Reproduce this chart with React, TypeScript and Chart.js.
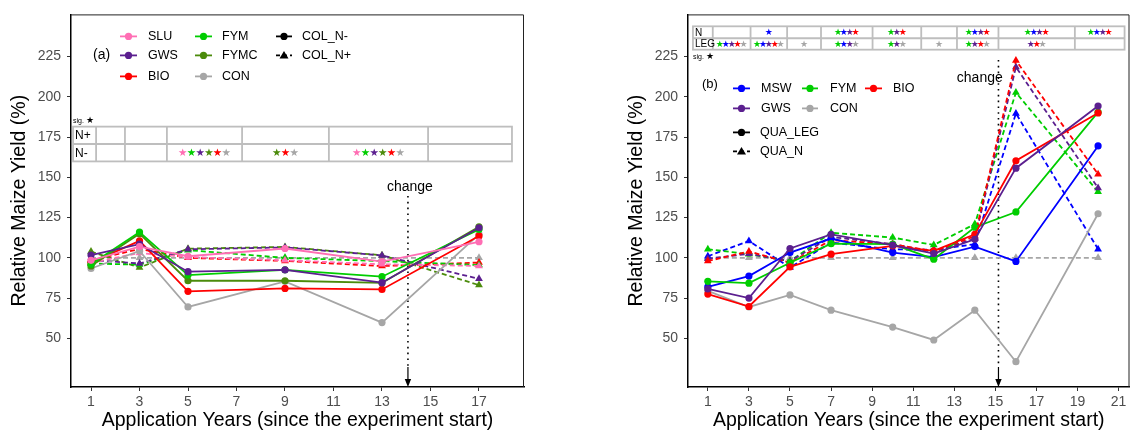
import React, { useEffect, useRef } from "react";
import { Chart, registerables } from "chart.js";
Chart.register(...registerables);

const FONT = "'Liberation Sans', Arial, Helvetica, sans-serif";
const STAR_FONT = "'DejaVu Sans', sans-serif";

const COLORS: Record<string, string> = {
  SLU: "#FF6EB4",
  GWS: "#5B1F8F",
  BIO: "#FF0000",
  FYM: "#00CD00",
  FYMC: "#4B8B0B",
  CON: "#A6A6A6",
  MSW: "#0000FF",
};

// ---------- Panel (a) ----------
const yearsA = [1, 3, 5, 9, 13, 17];
const xTicksA = [1, 3, 5, 7, 9, 11, 13, 15, 17];
const SLU_Nminus = [98.5, 107, 101, 105.8, 97.7, 110];
const GWS_Nminus = [101.7, 108.5, 91.4, 92.5, 84.6, 118.7];
const BIO_Nminus = [97, 110.5, 79.2, 81, 80.4, 113.6];
const FYM_Nminus = [96, 116, 89.3, 92.6, 88.3, 117.7];
const FYMC_Nminus = [95, 115, 85.8, 85.8, 84.5, 119.3];
const CON_Nminus = [93.4, 104.3, 69.5, 85.4, 59.8, 114.6];
const SLU_Nplus = [97, 103, 100.5, 98.5, 96, 95];
const GWS_Nplus = [98.7, 96.5, 105.3, 106.5, 101.5, 87];
const BIO_Nplus = [98.5, 105.5, 100, 98.1, 94.9, 97.1];
const FYM_Nplus = [96.5, 95.8, 104.8, 100, 98, 95.5];
const FYMC_Nplus = [103.9, 94, 105.7, 106.8, 101.6, 83.1];
const CON_Nplus = [100, 100, 100, 100, 100, 100];

// ---------- Panel (b) ----------
const yearsB = [1, 3, 5, 7, 10, 12, 14, 16, 20];
const xTicksB = [1, 3, 5, 7, 9, 11, 13, 15, 17, 19, 21];
const MSW_LEG = [82, 88.7, 103.3, 112, 103.3, 100.5, 107, 97.8, 169.5];
const MSW_N = [101, 110.5, 94, 109.5, 105.3, 105, 108.5, 189.7, 105.4];
const FYM_LEG = [85.4, 84.3, 97, 108.8, 108.5, 99.2, 119, 128.5, 190.5];
const FYM_N = [105.4, 102.3, 98, 115.6, 112.6, 108, 121, 202.7, 141];
const BIO_LEG = [77.5, 69.8, 94.4, 102.3, 107.4, 104.3, 114.6, 160.3, 190];
const BIO_N = [98, 104, 97, 111, 108.5, 104, 113.5, 222.6, 152];
const GWS_LEG = [80.7, 75, 105.8, 114.6, 107.9, 102.7, 111.5, 155.7, 194.3];
const GWS_N = [99.5, 102.5, 98, 113, 108.5, 103.8, 112, 218.5, 143.4];
const CON_LEG = [79.5, 69.5, 77, 67.5, 57, 49, 67.5, 35.5, 127.4];
const CON_N = [100, 100, 100, 100, 100, 100, 100, 100, 100];

const yTicks = [50, 75, 100, 125, 150, 175, 200, 225];

// Significance tables
const tableA_rows = ["N+", "N-"];
const tableA_stars: string[][][] = [
  [[], [], [], [], [], []],
  [[], [], ["SLU", "FYM", "GWS", "FYMC", "BIO", "CON"], ["FYMC", "BIO", "CON"], ["SLU", "FYM", "GWS", "FYMC", "BIO", "CON"], []],
];
const tableB_rows = ["N", "LEG"];
const tableB_stars: string[][][] = [
  [[], ["MSW"], [], ["FYM", "MSW", "GWS", "BIO"], ["FYM", "GWS", "BIO"], [], ["FYM", "MSW", "GWS", "BIO"], ["FYM", "MSW", "GWS", "BIO"], ["FYM", "MSW", "GWS", "BIO"]],
  [["FYM", "MSW", "GWS", "BIO", "CON"], ["FYM", "MSW", "GWS", "BIO", "CON"], ["CON"], ["FYM", "MSW", "GWS", "CON"], ["FYM", "GWS", "CON"], ["CON"], ["FYM", "GWS", "BIO", "CON"], ["GWS", "BIO", "CON"], []],
];

function pts(xs: number[], ys: number[]) {
  return xs.map((x, i) => ({ x, y: ys[i] }));
}

function ds(label: string, xs: number[], ys: number[], color: string, dashed: boolean) {
  return {
    label,
    data: pts(xs, ys),
    borderColor: color,
    backgroundColor: color,
    borderWidth: 1.8,
    borderDash: dashed ? [5, 3] : [],
    pointStyle: dashed ? "triangle" : "circle",
    pointRadius: dashed ? 4.5 : 3.6,
    pointBorderWidth: 0,
    pointBackgroundColor: color,
    tension: 0,
    fill: false,
  };
}

const datasetsA = [
  ds("SLU COL_N-", yearsA, SLU_Nminus, COLORS.SLU, false),
  ds("GWS COL_N-", yearsA, GWS_Nminus, COLORS.GWS, false),
  ds("FYM COL_N-", yearsA, FYM_Nminus, COLORS.FYM, false),
  ds("FYMC COL_N-", yearsA, FYMC_Nminus, COLORS.FYMC, false),
  ds("BIO COL_N-", yearsA, BIO_Nminus, COLORS.BIO, false),
  ds("CON COL_N-", yearsA, CON_Nminus, COLORS.CON, false),
  ds("SLU COL_N+", yearsA, SLU_Nplus, COLORS.SLU, true),
  ds("GWS COL_N+", yearsA, GWS_Nplus, COLORS.GWS, true),
  ds("FYM COL_N+", yearsA, FYM_Nplus, COLORS.FYM, true),
  ds("FYMC COL_N+", yearsA, FYMC_Nplus, COLORS.FYMC, true),
  ds("BIO COL_N+", yearsA, BIO_Nplus, COLORS.BIO, true),
  ds("CON COL_N+", yearsA, CON_Nplus, COLORS.CON, true),
];

const datasetsB = [
  ds("GWS QUA_LEG", yearsB, GWS_LEG, COLORS.GWS, false),
  ds("BIO QUA_LEG", yearsB, BIO_LEG, COLORS.BIO, false),
  ds("FYM QUA_LEG", yearsB, FYM_LEG, COLORS.FYM, false),
  ds("MSW QUA_LEG", yearsB, MSW_LEG, COLORS.MSW, false),
  ds("CON QUA_LEG", yearsB, CON_LEG, COLORS.CON, false),
  ds("BIO QUA_N", yearsB, BIO_N, COLORS.BIO, true),
  ds("GWS QUA_N", yearsB, GWS_N, COLORS.GWS, true),
  ds("FYM QUA_N", yearsB, FYM_N, COLORS.FYM, true),
  ds("MSW QUA_N", yearsB, MSW_N, COLORS.MSW, true),
  ds("CON QUA_N", yearsB, CON_N, COLORS.CON, true),
];

type LegendItem = { label: string; color: string; kind: "solid" | "dashed"; x1: number; x2: number; tx: number; y: number };

const cfgA = {
  id: "a",
  canvasLeft: 0,
  canvasWidth: 545,
  padRight: 21,
  xMin: 0.175,
  xMax: 18.856,
  xTicks: xTicksA,
  datasets: datasetsA,
  panelLabel: { text: "(a)", x: 22, y: 41, size: 14 },
  legend: [
    { label: "SLU", color: COLORS.SLU, kind: "solid", x1: 49, x2: 66, tx: 77, y: 22 },
    { label: "GWS", color: COLORS.GWS, kind: "solid", x1: 49, x2: 66, tx: 77, y: 41 },
    { label: "BIO", color: COLORS.BIO, kind: "solid", x1: 49, x2: 66, tx: 77, y: 62 },
    { label: "FYM", color: COLORS.FYM, kind: "solid", x1: 124, x2: 141, tx: 151, y: 22 },
    { label: "FYMC", color: COLORS.FYMC, kind: "solid", x1: 124, x2: 141, tx: 151, y: 41 },
    { label: "CON", color: COLORS.CON, kind: "solid", x1: 124, x2: 141, tx: 151, y: 62 },
    { label: "COL_N-", color: "#000", kind: "solid", x1: 205, x2: 221, tx: 231, y: 22 },
    { label: "COL_N+", color: "#000", kind: "dashed", x1: 205, x2: 221, tx: 231, y: 41 },
  ] as LegendItem[],
  legendSize: 12.5,
  table: {
    bounds: [0.26, 1.21, 2.4, 4.13, 7.23, 10.81, 14.9, 18.36],
    yTop: 181.5,
    yMid: 170.7,
    yBot: 159.9,
    rows: tableA_rows,
    stars: tableA_stars,
    labelSize: 12,
    starSize: 10.5,
    starStep: 8.7,
    sigAbove: true,
  },
  change: { x: 14.07, textX: 14.15, textY: 187, lineTop: 196 },
};

const cfgB = {
  id: "b",
  canvasLeft: 617,
  canvasWidth: 517,
  padRight: 1,
  xMin: 0.034,
  xMax: 21.53,
  xTicks: xTicksB,
  datasets: datasetsB,
  panelLabel: { text: "(b)", x: 14, y: 70, size: 13 },
  legend: [
    { label: "MSW", color: COLORS.MSW, kind: "solid", x1: 45, x2: 62, tx: 73, y: 74 },
    { label: "FYM", color: COLORS.FYM, kind: "solid", x1: 114, x2: 130, tx: 142, y: 74 },
    { label: "BIO", color: COLORS.BIO, kind: "solid", x1: 177, x2: 194, tx: 205, y: 74 },
    { label: "GWS", color: COLORS.GWS, kind: "solid", x1: 45, x2: 62, tx: 73, y: 94 },
    { label: "CON", color: COLORS.CON, kind: "solid", x1: 114, x2: 130, tx: 142, y: 94 },
    { label: "QUA_LEG", color: "#000", kind: "solid", x1: 45, x2: 62, tx: 72, y: 118 },
    { label: "QUA_N", color: "#000", kind: "dashed", x1: 45, x2: 62, tx: 72, y: 137 },
  ] as LegendItem[],
  legendSize: 12.5,
  table: {
    bounds: [0.275, 1.24, 3.08, 4.86, 6.51, 9.02, 11.39, 13.13, 15.15, 18.87, 21.29],
    yTop: 243.8,
    yMid: 236.4,
    yBot: 229.3,
    rows: tableB_rows,
    stars: tableB_stars,
    labelSize: 10,
    starSize: 9,
    starStep: 5.9,
    sigAbove: false,
  },
  change: { x: 15.15, textX: 14.24, textY: 78, lineTop: 60 },
};

function makeOverlay(cfg: any) {
  return {
    id: "overlay_" + cfg.id,
    beforeDatasetsDraw(chart: any) {
      const { ctx, chartArea: ca, scales } = chart;
      const x = scales.x.getPixelForValue(cfg.change.x);
      ctx.save();
      ctx.strokeStyle = "#000";
      ctx.lineWidth = 1.6;
      ctx.setLineDash([1.6, 4.2]);
      ctx.beginPath();
      ctx.moveTo(x, cfg.change.lineTop);
      ctx.lineTo(x, ca.bottom - 20);
      ctx.stroke();
      ctx.setLineDash([]);
      ctx.lineWidth = 1.2;
      ctx.beginPath();
      ctx.moveTo(x, ca.bottom - 20);
      ctx.lineTo(x, ca.bottom - 6);
      ctx.stroke();
      ctx.fillStyle = "#000";
      ctx.beginPath();
      ctx.moveTo(x, ca.bottom);
      ctx.lineTo(x - 3.2, ca.bottom - 8);
      ctx.lineTo(x + 3.2, ca.bottom - 8);
      ctx.closePath();
      ctx.fill();
      ctx.restore();
    },
    afterDraw(chart: any) {
      const { ctx, chartArea: ca, scales } = chart;
      const xs = scales.x;
      const ys = scales.y;
      ctx.save();
      // top & right border
      ctx.strokeStyle = "#222";
      ctx.lineWidth = 1;
      ctx.beginPath();
      ctx.moveTo(ca.left, ca.top + 0.5);
      ctx.lineTo(ca.right - 0.5, ca.top + 0.5);
      ctx.lineTo(ca.right - 0.5, ca.bottom);
      ctx.stroke();

      // change label
      ctx.fillStyle = "#000";
      ctx.font = `14px ${FONT}`;
      ctx.textAlign = "center";
      ctx.textBaseline = "middle";
      ctx.fillText("change", xs.getPixelForValue(cfg.change.textX), cfg.change.textY);

      // table
      const t = cfg.table;
      const bx = t.bounds.map((b: number) => xs.getPixelForValue(b));
      const yTop = ys.getPixelForValue(t.yTop);
      const yMid = ys.getPixelForValue(t.yMid);
      const yBot = ys.getPixelForValue(t.yBot);
      ctx.strokeStyle = "#BEBEBE";
      ctx.lineWidth = 1.8;
      ctx.strokeRect(bx[0], yTop, bx[bx.length - 1] - bx[0], yBot - yTop);
      ctx.beginPath();
      ctx.moveTo(bx[0], yMid);
      ctx.lineTo(bx[bx.length - 1], yMid);
      for (let i = 1; i < bx.length - 1; i++) {
        ctx.moveTo(bx[i], yTop);
        ctx.lineTo(bx[i], yBot);
      }
      ctx.stroke();
      const rowY = [(yTop + yMid) / 2, (yMid + yBot) / 2];
      ctx.fillStyle = "#000";
      ctx.font = `${t.labelSize}px ${FONT}`;
      ctx.textAlign = "left";
      t.rows.forEach((r: string, i: number) => {
        ctx.fillText(r, bx[0] + 2, rowY[i] + 0.5);
      });
      ctx.font = `${t.starSize}px ${STAR_FONT}`;
      ctx.textAlign = "center";
      t.stars.forEach((row: string[][], ri: number) => {
        row.forEach((cell: string[], ci: number) => {
          if (!cell.length) return;
          const cx = (bx[ci + 1] + bx[ci + 2]) / 2;
          const start = cx - (cell.length * t.starStep) / 2 + t.starStep / 2;
          cell.forEach((k: string, si: number) => {
            ctx.fillStyle = COLORS[k];
            ctx.fillText("\u2605", start + si * t.starStep, rowY[ri] + 0.5);
          });
        });
      });
      // sig. star
      const sigY = t.sigAbove ? yTop - 6 : yBot + 7;
      ctx.fillStyle = "#000";
      ctx.textAlign = "left";
      ctx.font = `7px ${FONT}`;
      ctx.fillText("sig.", bx[0], sigY);
      ctx.font = `9px ${STAR_FONT}`;
      ctx.fillText("\u2605", bx[0] + 13, sigY);

      // panel label
      const L = ca.left;
      const T = ca.top;
      ctx.font = `${cfg.panelLabel.size}px ${FONT}`;
      ctx.fillStyle = "#000";
      ctx.textAlign = "left";
      ctx.fillText(cfg.panelLabel.text, L + cfg.panelLabel.x, T + cfg.panelLabel.y);

      // legend
      cfg.legend.forEach((it: LegendItem) => {
        const x1 = L + it.x1;
        const x2 = L + it.x2;
        const y = T + it.y;
        const xm = (x1 + x2) / 2;
        ctx.strokeStyle = it.color;
        ctx.fillStyle = it.color;
        ctx.lineWidth = 1.8;
        if (it.kind === "solid") {
          ctx.setLineDash([]);
          ctx.beginPath();
          ctx.moveTo(x1, y);
          ctx.lineTo(x2, y);
          ctx.stroke();
          ctx.beginPath();
          ctx.arc(xm, y, 3.6, 0, Math.PI * 2);
          ctx.fill();
        } else {
          ctx.setLineDash([4, 3]);
          ctx.beginPath();
          ctx.moveTo(x1, y);
          ctx.lineTo(x2, y);
          ctx.stroke();
          ctx.setLineDash([]);
          ctx.beginPath();
          ctx.moveTo(xm, y - 4.5);
          ctx.lineTo(xm - 4.5, y + 3);
          ctx.lineTo(xm + 4.5, y + 3);
          ctx.closePath();
          ctx.fill();
        }
        ctx.fillStyle = "#000";
        ctx.font = `${cfg.legendSize}px ${FONT}`;
        ctx.fillText(it.label, L + it.tx, y + 0.5);
      });
      ctx.restore();
    },
  };
}

function Panel({ cfg }: { cfg: any }) {
  const ref = useRef<HTMLCanvasElement>(null);
  useEffect(() => {
    const chart = new Chart(ref.current as HTMLCanvasElement, {
      type: "line",
      data: { datasets: cfg.datasets },
      options: {
        animation: false,
        responsive: false,
        devicePixelRatio: 1,
        layout: { padding: { left: 0, top: 12, right: cfg.padRight, bottom: 0 } },
        plugins: { legend: { display: false }, tooltip: { enabled: false } },
        scales: {
          x: {
            type: "linear",
            min: cfg.xMin,
            max: cfg.xMax,
            afterBuildTicks: (s: any) => {
              s.ticks = cfg.xTicks.map((v: number) => ({ value: v }));
            },
            afterFit: (s: any) => {
              s.height = 45;
            },
            grid: { display: true, drawOnChartArea: false, drawTicks: true, tickLength: 4, color: "#333", lineWidth: 1 },
            border: { display: true, color: "#000", width: 1.5 },
            ticks: {
              color: "#4D4D4D",
              font: { family: FONT, size: 14 },
              padding: 3,
              maxRotation: 0,
              autoSkip: false,
              callback: (v: any) => String(v),
            },
            title: {
              display: true,
              text: "Application Years (since the experiment start)",
              color: "#000",
              font: { family: FONT, size: 19.5 },
              padding: { top: 0, bottom: 0 },
            },
          },
          y: {
            type: "linear",
            min: 19.8,
            max: 251.2,
            afterBuildTicks: (s: any) => {
              s.ticks = yTicks.map((v) => ({ value: v }));
            },
            afterFit: (s: any) => {
              s.width = 71;
            },
            grid: { display: true, drawOnChartArea: false, drawTicks: true, tickLength: 4, color: "#333", lineWidth: 1 },
            border: { display: true, color: "#000", width: 1.5 },
            ticks: {
              color: "#4D4D4D",
              font: { family: FONT, size: 14 },
              padding: 6,
              callback: (v: any) => String(v),
            },
            title: {
              display: true,
              text: "Relative Maize Yield (%)",
              color: "#000",
              font: { family: FONT, size: 19.5 },
              padding: { top: 8.3, bottom: 0 },
            },
          },
        },
      },
      plugins: [makeOverlay(cfg)],
    } as any);
    return () => chart.destroy();
  }, []);
  return (
    <canvas
      ref={ref}
      width={cfg.canvasWidth}
      height={432}
      style={{ position: "absolute", left: cfg.canvasLeft, top: 0, width: cfg.canvasWidth, height: 432 }}
    />
  );
}

export default function App() {
  return (
    <div style={{ position: "fixed", left: 0, top: 0, width: 1134, height: 432, background: "#fff" }}>
      <Panel cfg={cfgA} />
      <Panel cfg={cfgB} />
    </div>
  );
}
